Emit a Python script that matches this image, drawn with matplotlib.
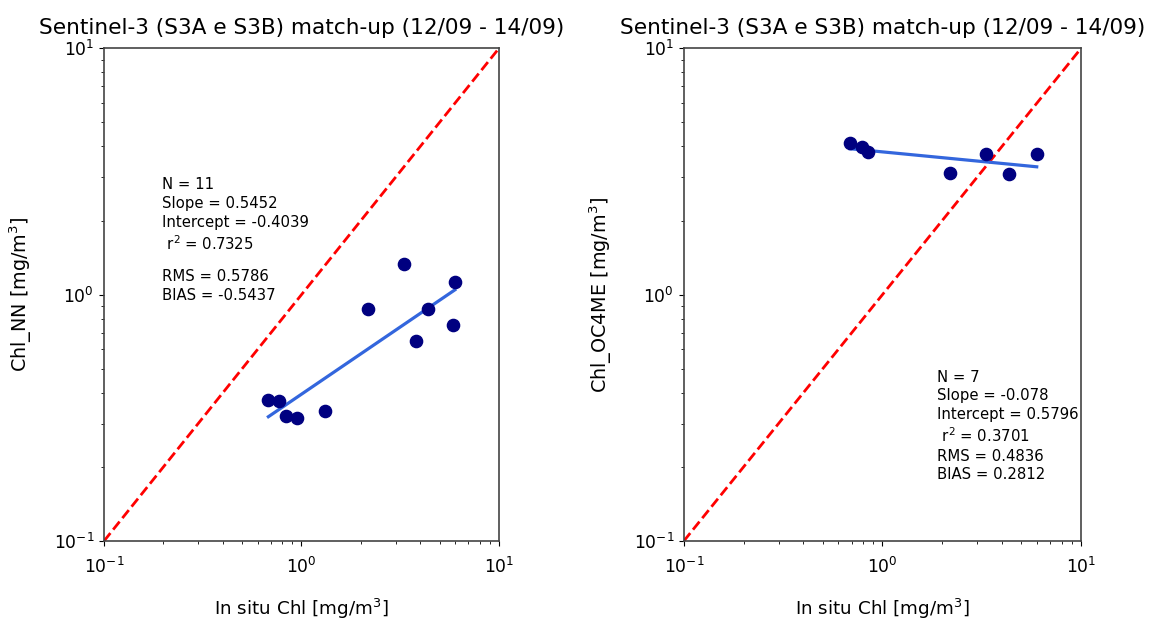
import numpy as np
import matplotlib
matplotlib.use("Agg")
import matplotlib.pyplot as plt
from matplotlib import font_manager as fm

# Match-up points (in situ vs satellite Chl, mg/m3)
insitu_nn = [0.68, 0.77, 0.84, 0.95, 1.31, 2.18, 3.32, 4.39, 3.79, 5.98, 5.87]
chl_nn = [0.373, 0.370, 0.322, 0.315, 0.337, 0.873, 1.33, 0.873, 0.650, 1.127, 0.752]

insitu_oc4 = [0.685, 0.785, 0.848, 2.19, 3.32, 4.35, 5.98]
chl_oc4 = [4.11, 3.98, 3.78, 3.12, 3.74, 3.10, 3.74]

# Statistics printed in each panel: N, slope, intercept, r2, RMS, BIAS
stats_nn = [11, 0.5452, -0.4039, 0.7325, 0.5786, -0.5437]
stats_oc4 = [7, -0.078, 0.5796, 0.3701, 0.4836, 0.2812]

title = "Sentinel-3 (S3A e S3B) match-up (12/09 - 14/09)"
xlabel = "In situ Chl [mg/m$^3$]"
ylabels = ["Chl_NN [mg/m$^3$]", "Chl_OC4ME [mg/m$^3$]"]

# the reference text looks narrow, so use a narrow face if there is one
narrow = None
for f in fm.fontManager.ttflist:
    if f.name == "Liberation Sans Narrow" and f.style == "normal" and f.weight in (400, "normal", "regular"):
        narrow = f.name
if narrow:
    plt.rcParams["font.family"] = [narrow, "DejaVu Sans"]
    plt.rcParams["mathtext.fontset"] = "custom"
    plt.rcParams["mathtext.rm"] = narrow
    plt.rcParams["mathtext.it"] = narrow + ":italic"
    plt.rcParams["mathtext.bf"] = narrow + ":bold"
    k = 1.3
else:
    plt.rcParams["font.family"] = ["DejaVu Sans"]
    k = 1.0


def fit_lines(s):
    return "N = %d\nSlope = %s\nIntercept = %s\n $\\mathregular{r^2}$ = %s" % (s[0], s[1], s[2], s[3])


def err_lines(s):
    return "RMS = %s\nBIAS = %s" % (s[4], s[5])


def panel(ax, x, y, s, ylab):
    x = np.array(x)
    ax.plot([0.1, 10], [0.1, 10], "r--", lw=2, zorder=2)
    # regression line from the printed slope / intercept (log-log)
    xl = np.array([x.min(), x.max()])
    yl = 10 ** (s[1] * np.log10(xl) + s[2])
    ax.plot(xl, yl, color="#3366dd", lw=2.3, zorder=3)
    ax.plot(x, y, "o", color="navy", ms=8.8, zorder=4)
    ax.set_xscale("log")
    ax.set_yscale("log")
    ax.set_xlim(0.1, 10)
    ax.set_ylim(0.1, 10)
    ax.set_title(title, fontsize=15.6 * k, pad=10)
    ax.set_xlabel(xlabel, fontsize=13.2 * k, labelpad=14)
    ax.set_ylabel(ylab, fontsize=13.8 * k, labelpad=14)
    ax.tick_params(labelsize=12.3 * k)
    ax.tick_params(axis="x", pad=8)
    for sp in ax.spines.values():
        sp.set_color("#444444")
        sp.set_linewidth(1.2)


fig = plt.figure(figsize=(11.55, 6.27), dpi=100)
ax1 = fig.add_axes([0.090, 0.137, 0.342, 0.786])
ax2 = fig.add_axes([0.592, 0.137, 0.344, 0.786])

panel(ax1, insitu_nn, chl_nn, stats_nn, ylabels[0])
panel(ax2, insitu_oc4, chl_oc4, stats_oc4, ylabels[1])

txt = dict(va="top", ha="left", fontsize=10.7 * k, linespacing=1.3)
# left panel: RMS / BIAS sit a little lower than the fit lines
ax1.text(0.147, 0.738, fit_lines(stats_nn), transform=ax1.transAxes, **txt)
ax1.text(0.147, 0.552, err_lines(stats_nn), transform=ax1.transAxes, **txt)
ax2.text(0.637, 0.348, fit_lines(stats_oc4) + "\n" + err_lines(stats_oc4),
         transform=ax2.transAxes, **txt)

fig.savefig("out.png", dpi=100)
